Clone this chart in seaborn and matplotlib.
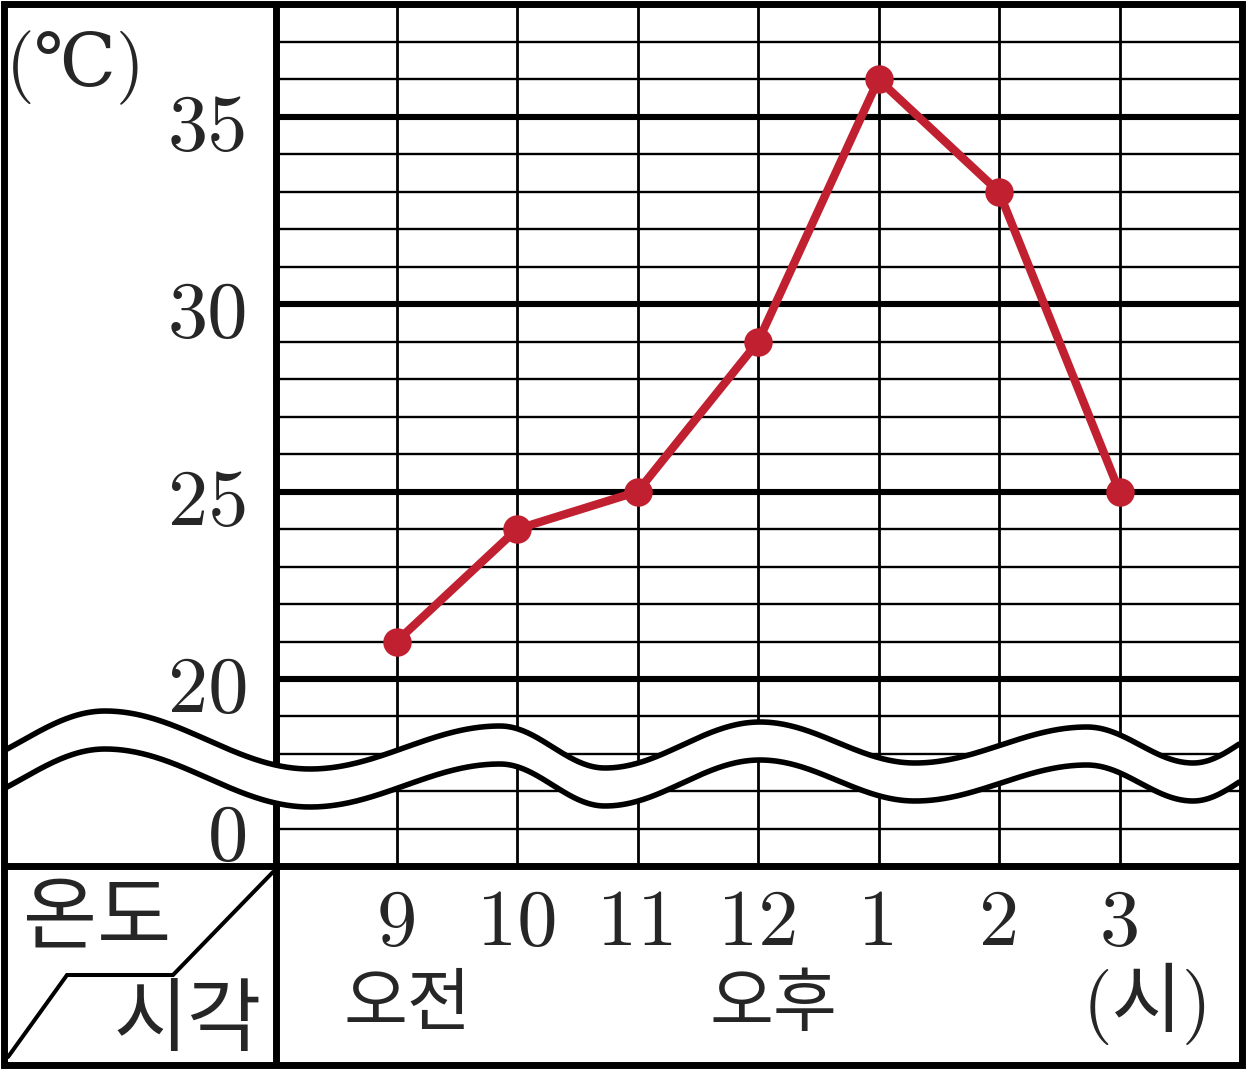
import numpy as np
import matplotlib
matplotlib.use("Agg")
import matplotlib.pyplot as plt
from matplotlib.patches import Rectangle
import seaborn as sns
import pandas as pd

# ---- data ----
hours = ["9", "10", "11", "12", "1", "2", "3"]
temps = [21, 24, 25, 29, 36, 33, 25]
y_major = [20, 25, 30, 35]
y_labels = ["20", "25", "30", "35"]
zero_label = "0"
period_am = "오전"
period_pm = "오후"
unit_y = "(℃)"
unit_x = "(시)"
corner_top = "온도"
corner_bottom = "시각"

sns.set_theme(style="white")
plt.rcParams["font.family"] = ["Noto Sans CJK KR", "DejaVu Sans"]
NUM_FONT = ["cmr10", "DejaVu Serif", "Noto Sans CJK KR"]

W, H = 1246, 1070
X0, DX = 276.0, 120.5
Y20, DY = 679.0, 37.47


def xd(px):
    return (px - X0) / DX


def yd(py):
    return 20 + (Y20 - py) / DY


fig = plt.figure(figsize=(W / 100, H / 100), dpi=100)
ax = fig.add_axes([0, 0, 1, 1])

n_cols = len(hours) + 1
grid_bottom = 15
grid_top = yd(3.5)

# horizontal grid lines
for v in range(grid_bottom + 1, 38):
    lw = 4.4 if v % 5 == 0 else 1.7
    ax.plot([0, n_cols], [v, v], color="black", lw=lw, zorder=1,
            solid_capstyle="butt")
# vertical grid lines
for i in range(1, n_cols):
    ax.plot([i, i], [grid_bottom, grid_top], color="black", lw=2.0, zorder=1,
            solid_capstyle="butt")
# left column divider
ax.plot([0, 0], [yd(1064.5), grid_top], color="black", lw=5, zorder=1.5,
        solid_capstyle="butt")
# divider between grid and bottom row
ax.plot([xd(3.5), xd(1242)], [grid_bottom, grid_bottom], color="black", lw=5,
        zorder=4, solid_capstyle="butt")

# ---- wavy axis break ----
wave_ext = [(-60, 770), (105, 711), (310, 769), (500, 726), (605, 768),
            (760, 722), (915, 763), (1087, 727), (1193, 763), (1290, 722)]
px = np.linspace(6, 1239, 800)
upper = np.empty_like(px)
for k in range(len(wave_ext) - 1):
    (xa, ya), (xb, yb) = wave_ext[k], wave_ext[k + 1]
    m = (px >= xa) & (px <= xb)
    t = (px[m] - xa) / (xb - xa)
    upper[m] = ya + (yb - ya) * (1 - np.cos(np.pi * t)) / 2
lower = upper + 38
ax.fill_between(xd(px), yd(upper), yd(lower), color="white", zorder=2, lw=0)
ax.plot(xd(px), yd(upper), color="black", lw=4.0, zorder=3)
ax.plot(xd(px), yd(lower), color="black", lw=4.0, zorder=3)

# ---- data line ----
df = pd.DataFrame({"pos": np.arange(1, len(hours) + 1), "temp": temps})
sns.lineplot(data=df, x="pos", y="temp", ax=ax, color="#C0202F", lw=6.0,
             marker="o", markersize=20.5, markeredgewidth=0, zorder=5)

# ---- texts ----
for v, lab in zip(y_major, y_labels):
    ax.text(xd(248), v - 0.88, lab, ha="right", va="baseline", fontsize=58,
            family=NUM_FONT, zorder=6)
ax.text(xd(248), 16 - 0.83, zero_label, ha="right", va="baseline",
        fontsize=58, family=NUM_FONT, zorder=6)
for i, h in enumerate(hours, start=1):
    ax.text(i, yd(945), h, ha="center", va="baseline", fontsize=58,
            family=NUM_FONT, zorder=6)

ax.text(xd(407), yd(1005), period_am, ha="center", va="center", fontsize=50)
ax.text(xd(773), yd(1005), period_pm, ha="center", va="center", fontsize=50)
ax.text(xd(1147), yd(1004), unit_x, ha="center", va="center", fontsize=55,
        family=NUM_FONT)
ax.text(xd(76), yd(68), unit_y, ha="center", va="center", fontsize=53,
        family=NUM_FONT)
ax.text(xd(97), yd(919), corner_top, ha="center", va="center", fontsize=58)
ax.text(xd(188), yd(1022), corner_bottom, ha="center", va="center",
        fontsize=58)

# diagonal split in the corner cell
diag = [(273, 872), (173, 975), (67, 975), (8, 1057)]
ax.plot([xd(p[0]) for p in diag], [yd(p[1]) for p in diag], color="black",
        lw=2.9, zorder=4, solid_joinstyle="miter")

# outer border
ax.add_patch(Rectangle((xd(3.5), yd(1064.5)), xd(1242) - xd(3.5),
                       yd(3.5) - yd(1064.5), fill=False, lw=5,
                       edgecolor="black", zorder=7, joinstyle="miter"))

ax.set_xlim(xd(0), xd(W))
ax.set_ylim(yd(H), yd(0))
ax.set_axis_off()
fig.savefig("out.png", dpi=100)
